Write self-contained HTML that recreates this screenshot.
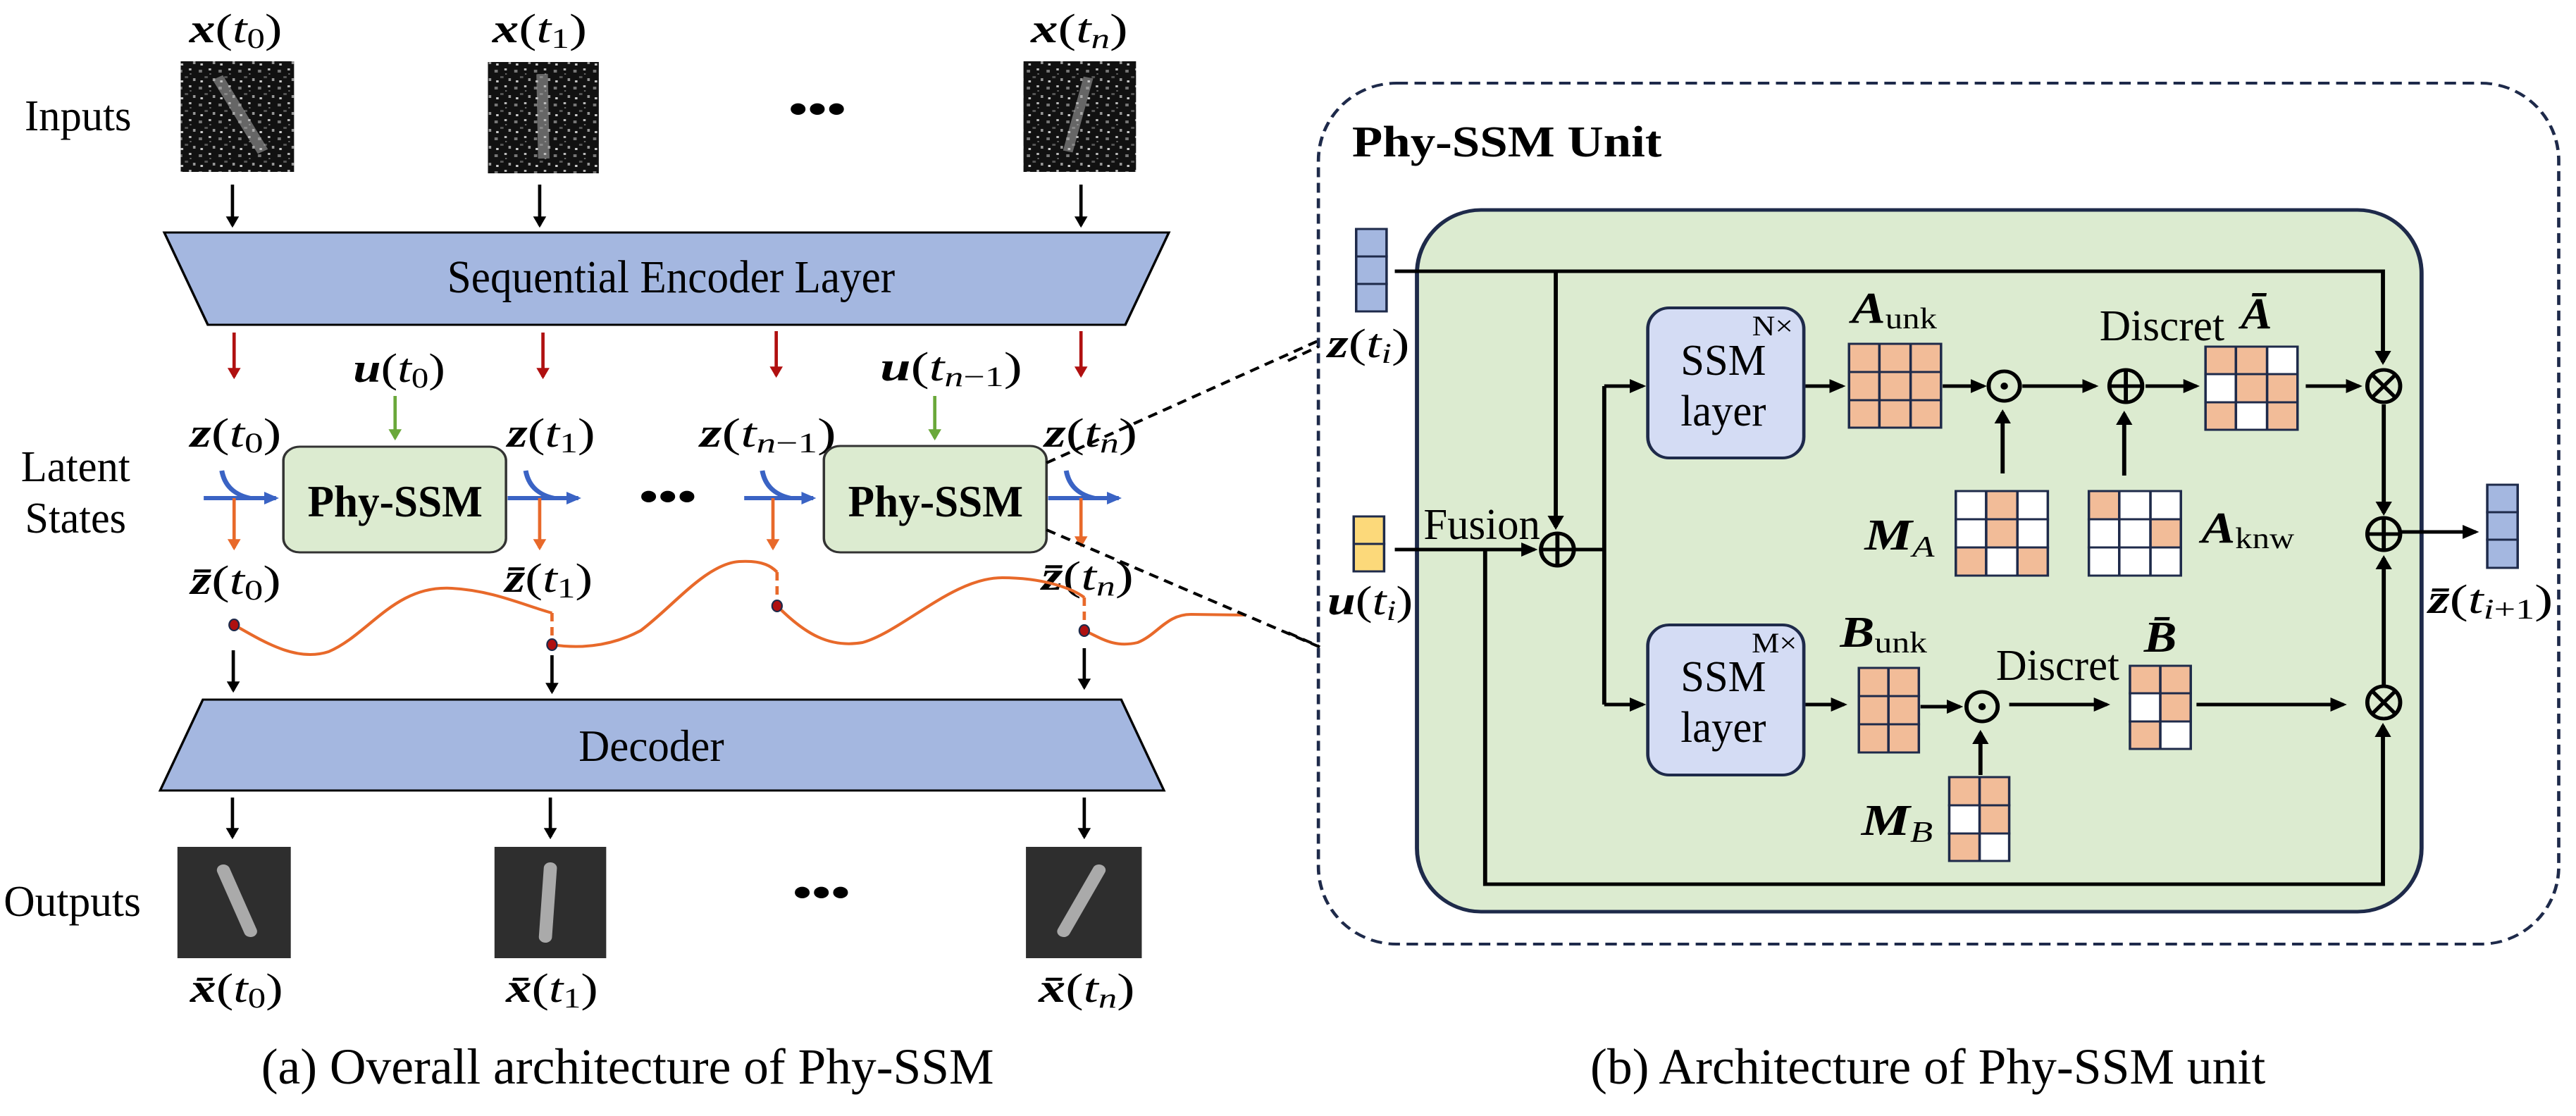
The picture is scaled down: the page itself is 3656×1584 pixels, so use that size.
<!DOCTYPE html>
<html><head><meta charset="utf-8"><style>
html,body{margin:0;padding:0;background:#fff;overflow:hidden;}
svg{display:block;}
text{font-family:"Liberation Serif",serif;fill:#000;}
.m{font-style:italic;}
.b{font-weight:bold;}
</style></head><body>
<svg width="3656" height="1584" viewBox="0 0 3656 1584" xmlns="http://www.w3.org/2000/svg">
<defs>
<marker id="ak" markerWidth="4" markerHeight="4" refX="3.2" refY="2" orient="auto" markerUnits="strokeWidth"><path d="M0,0 L4,2 L0,4 z" fill="#000"/></marker>
<marker id="ar" markerWidth="4" markerHeight="4" refX="3.2" refY="2" orient="auto" markerUnits="strokeWidth"><path d="M0,0 L4,2 L0,4 z" fill="#b01010"/></marker>
<marker id="ag" markerWidth="4" markerHeight="4" refX="3.2" refY="2" orient="auto" markerUnits="strokeWidth"><path d="M0,0 L4,2 L0,4 z" fill="#6aa83a"/></marker>
<marker id="ab" markerWidth="3" markerHeight="3" refX="2.4" refY="1.5" orient="auto" markerUnits="strokeWidth"><path d="M0,0 L3,1.5 L0,3 z" fill="#3a63c4"/></marker>
<marker id="ao" markerWidth="4" markerHeight="4" refX="3.2" refY="2" orient="auto" markerUnits="strokeWidth"><path d="M0,0 L4,2 L0,4 z" fill="#e8692a"/></marker>
<pattern id="noise" width="24" height="24" patternUnits="userSpaceOnUse">
<rect width="24" height="24" fill="#111"/>
<rect x="2" y="3" width="4" height="4" fill="#777"/><rect x="14" y="1" width="3" height="3" fill="#bbb"/>
<rect x="9" y="12" width="4" height="3" fill="#555"/><rect x="19" y="15" width="3" height="4" fill="#999"/>
<rect x="4" y="18" width="3" height="3" fill="#ccc"/><rect x="15" y="8" width="2" height="2" fill="#666"/>
</pattern>
</defs>

<!-- LEFT -->
<g transform="scale(1.1658,1)">
<text x="95" y="185" font-size="62" text-anchor="middle" textLength="130" lengthAdjust="spacingAndGlyphs">Inputs</text>
<text x="92" y="683" font-size="62" text-anchor="middle" textLength="133" lengthAdjust="spacingAndGlyphs">Latent</text>
<text x="92" y="756" font-size="62" text-anchor="middle" textLength="123" lengthAdjust="spacingAndGlyphs">States</text>
<text x="88" y="1300" font-size="62" text-anchor="middle" textLength="167" lengthAdjust="spacingAndGlyphs">Outputs</text>

<g font-size="58" text-anchor="middle">
<text x="287" y="60" textLength="113" lengthAdjust="spacingAndGlyphs"><tspan class="m b">x</tspan>(<tspan class="m">t</tspan><tspan font-size="40" dy="8">0</tspan><tspan dy="-8">)</tspan></text>
<text x="657" y="60" textLength="115" lengthAdjust="spacingAndGlyphs"><tspan class="m b">x</tspan>(<tspan class="m">t</tspan><tspan font-size="40" dy="8">1</tspan><tspan dy="-8">)</tspan></text>
<text x="1314" y="60" textLength="118" lengthAdjust="spacingAndGlyphs"><tspan class="m b">x</tspan>(<tspan class="m">t</tspan><tspan font-size="40" dy="8" class="m">n</tspan><tspan dy="-8">)</tspan></text>
</g>
<rect x="220" y="87" width="138" height="157" fill="url(#noise)"/>
<path d="M265,110 L320,215" stroke="#bbb" stroke-width="14" opacity="0.5"/>
<rect x="594" y="88" width="135" height="158" fill="url(#noise)"/>
<path d="M660,105 L662,225" stroke="#bbb" stroke-width="14" opacity="0.5"/>
<rect x="1246" y="87" width="137" height="157" fill="url(#noise)"/>
<path d="M1325,110 L1300,215" stroke="#bbb" stroke-width="12" opacity="0.5"/>
<text x="995" y="175" font-size="60" text-anchor="middle" class="b" textLength="70" lengthAdjust="spacingAndGlyphs">•••</text>

<g stroke="#000" stroke-width="4" marker-end="url(#ak)">
<line x1="283" y1="262" x2="283" y2="320"/><line x1="657" y1="262" x2="657" y2="320"/><line x1="1316" y1="262" x2="1316" y2="320"/>
<line x1="284" y1="923" x2="284" y2="980"/><line x1="672" y1="930" x2="672" y2="982"/><line x1="1320" y1="920" x2="1320" y2="976"/>
<line x1="283" y1="1132" x2="283" y2="1188"/><line x1="670" y1="1132" x2="670" y2="1188"/><line x1="1320" y1="1132" x2="1320" y2="1188"/>
</g>

<path d="M200,330 L1423,330 L1370,461 L253,461 Z" fill="#a4b7e0" stroke="#000" stroke-width="3"/>
<text x="817" y="415" font-size="66" text-anchor="middle" textLength="545" lengthAdjust="spacingAndGlyphs">Sequential Encoder Layer</text>

<g stroke="#b01010" stroke-width="4" marker-end="url(#ar)">
<line x1="285" y1="472" x2="285" y2="535"/><line x1="661" y1="472" x2="661" y2="535"/><line x1="945" y1="470" x2="945" y2="533"/><line x1="1316" y1="470" x2="1316" y2="533"/>
</g>
<g font-size="58" text-anchor="middle">
<text x="486" y="542" textLength="112" lengthAdjust="spacingAndGlyphs"><tspan class="m b">u</tspan>(<tspan class="m">t</tspan><tspan font-size="40" dy="8">0</tspan><tspan dy="-8">)</tspan></text>
<text x="1158" y="540" textLength="173" lengthAdjust="spacingAndGlyphs"><tspan class="m b">u</tspan>(<tspan class="m">t</tspan><tspan font-size="40" dy="8"><tspan class="m">n</tspan>−1</tspan><tspan dy="-8">)</tspan></text>
</g>
<g stroke="#6aa83a" stroke-width="4" marker-end="url(#ag)">
<line x1="481" y1="562" x2="481" y2="622"/><line x1="1138" y1="562" x2="1138" y2="622"/>
</g>
<g font-size="58" text-anchor="middle">
<text x="287" y="634" textLength="111" lengthAdjust="spacingAndGlyphs"><tspan class="m b">z</tspan>(<tspan class="m">t</tspan><tspan font-size="40" dy="8">0</tspan><tspan dy="-8">)</tspan></text>
<text x="671" y="634" textLength="107" lengthAdjust="spacingAndGlyphs"><tspan class="m b">z</tspan>(<tspan class="m">t</tspan><tspan font-size="40" dy="8">1</tspan><tspan dy="-8">)</tspan></text>
<text x="935" y="634" textLength="166" lengthAdjust="spacingAndGlyphs"><tspan class="m b">z</tspan>(<tspan class="m">t</tspan><tspan font-size="40" dy="8"><tspan class="m">n</tspan>−1</tspan><tspan dy="-8">)</tspan></text>
<text x="1328" y="634" textLength="113" lengthAdjust="spacingAndGlyphs"><tspan class="m b">z</tspan>(<tspan class="m">t</tspan><tspan font-size="40" dy="8" class="m">n</tspan><tspan dy="-8">)</tspan></text>
<text x="287" y="843" textLength="110" lengthAdjust="spacingAndGlyphs"><tspan class="m b">z̄</tspan>(<tspan class="m">t</tspan><tspan font-size="40" dy="8">0</tspan><tspan dy="-8">)</tspan></text>
<text x="668" y="840" textLength="107" lengthAdjust="spacingAndGlyphs"><tspan class="m b">z̄</tspan>(<tspan class="m">t</tspan><tspan font-size="40" dy="8">1</tspan><tspan dy="-8">)</tspan></text>
<text x="1324" y="837" textLength="112" lengthAdjust="spacingAndGlyphs"><tspan class="m b">z̄</tspan>(<tspan class="m">t</tspan><tspan font-size="40" dy="8" class="m">n</tspan><tspan dy="-8">)</tspan></text>
</g>

<rect x="345" y="634" width="271" height="150" rx="20" fill="#dcebd0" stroke="#333" stroke-width="3"/>
<rect x="1003" y="633" width="271" height="151" rx="20" fill="#dcebd0" stroke="#333" stroke-width="3"/>
<text x="481" y="733" font-size="64" text-anchor="middle" class="b" textLength="213" lengthAdjust="spacingAndGlyphs">Phy-SSM</text>
<text x="1139" y="733" font-size="64" text-anchor="middle" class="b" textLength="213" lengthAdjust="spacingAndGlyphs">Phy-SSM</text>
<text x="813" y="725" font-size="60" text-anchor="middle" class="b" textLength="70" lengthAdjust="spacingAndGlyphs">•••</text>

<g stroke="#3a63c4" stroke-width="6" fill="none">
<line x1="248" y1="707" x2="336" y2="707" marker-end="url(#ab)"/>
<line x1="618" y1="707" x2="704" y2="707" marker-end="url(#ab)"/>
<line x1="906" y1="707" x2="990" y2="707" marker-end="url(#ab)"/>
<line x1="1276" y1="707" x2="1362" y2="707" marker-end="url(#ab)"/>
<path d="M270,668 Q275,700 305,707"/><path d="M640,668 Q645,700 675,707"/><path d="M928,668 Q933,700 963,707"/><path d="M1298,668 Q1303,700 1333,707"/>
</g>
<g stroke="#e8692a" stroke-width="4" marker-end="url(#ao)">
<line x1="285" y1="707" x2="285" y2="778"/><line x1="657" y1="707" x2="657" y2="778"/><line x1="941" y1="707" x2="941" y2="778"/><line x1="1316" y1="707" x2="1316" y2="774"/>
</g>
<g stroke="#e8692a" stroke-width="4" fill="none">
<path d="M285,887 C320,910 360,940 400,925 C450,900 480,830 550,835 C600,838 640,860 672,870"/>
<line x1="672" y1="870" x2="672" y2="915" stroke-dasharray="12,8"/>
<path d="M672,915 C700,920 740,920 780,895 C820,860 860,800 900,797 C930,795 940,805 946,812"/>
<line x1="946" y1="812" x2="946" y2="860" stroke-dasharray="12,8"/>
<path d="M946,860 C980,900 1010,920 1050,912 C1100,895 1160,820 1220,820 C1270,820 1305,835 1320,848"/>
<line x1="1320" y1="848" x2="1320" y2="895" stroke-dasharray="12,8"/>
<path d="M1320,895 C1340,905 1355,920 1385,912 C1410,900 1420,872 1450,872 L1515,873"/>
</g>
<g fill="#b01010" stroke="#1e2a4a" stroke-width="2">
<ellipse cx="285" cy="887" rx="6" ry="8"/><ellipse cx="672" cy="915" rx="6" ry="8"/><ellipse cx="946" cy="860" rx="6" ry="8"/><ellipse cx="1320" cy="895" rx="6" ry="8"/>
</g>

<path d="M247,993 L1365,993 L1417,1122 L195,1122 Z" fill="#a4b7e0" stroke="#000" stroke-width="3"/>
<text x="793" y="1080" font-size="64" text-anchor="middle" textLength="177" lengthAdjust="spacingAndGlyphs">Decoder</text>

<rect x="216" y="1202" width="138" height="158" fill="#2e2e2e"/>
<line x1="272" y1="1235" x2="305" y2="1322" stroke="#aaa" stroke-width="16" stroke-linecap="round"/>
<rect x="602" y="1202" width="136" height="158" fill="#2e2e2e"/>
<line x1="670" y1="1232" x2="664" y2="1330" stroke="#aaa" stroke-width="16" stroke-linecap="round"/>
<rect x="1249" y="1202" width="141" height="158" fill="#2e2e2e"/>
<line x1="1338" y1="1235" x2="1295" y2="1322" stroke="#aaa" stroke-width="16" stroke-linecap="round"/>
<text x="1000" y="1287" font-size="60" text-anchor="middle" class="b" textLength="70" lengthAdjust="spacingAndGlyphs">•••</text>
<g font-size="58" text-anchor="middle">
<text x="288" y="1422" textLength="113" lengthAdjust="spacingAndGlyphs"><tspan class="m b">x̄</tspan>(<tspan class="m">t</tspan><tspan font-size="40" dy="8">0</tspan><tspan dy="-8">)</tspan></text>
<text x="672" y="1422" textLength="112" lengthAdjust="spacingAndGlyphs"><tspan class="m b">x̄</tspan>(<tspan class="m">t</tspan><tspan font-size="40" dy="8">1</tspan><tspan dy="-8">)</tspan></text>
<text x="1323" y="1422" textLength="117" lengthAdjust="spacingAndGlyphs"><tspan class="m b">x̄</tspan>(<tspan class="m">t</tspan><tspan font-size="40" dy="8" class="m">n</tspan><tspan dy="-8">)</tspan></text>
</g>
<text x="764" y="1538" font-size="72" text-anchor="middle" textLength="892" lengthAdjust="spacingAndGlyphs">(a) Overall architecture of Phy-SSM</text>
<g stroke="#000" stroke-width="4" stroke-dasharray="12,8">
<line x1="1274" y1="657" x2="1608" y2="482"/>
<line x1="1274" y1="752" x2="1608" y2="919"/>
</g>
</g>

<!-- RIGHT -->
<g transform="translate(1828,0) scale(1.1658,1)">
<rect x="37" y="118" width="1510" height="1222" rx="95" ry="110" fill="none" stroke="#1e2a4a" stroke-width="4" stroke-dasharray="14,8"/>
<text x="78" y="222" font-size="62" class="b" textLength="377" lengthAdjust="spacingAndGlyphs">Phy-SSM Unit</text>
<rect x="157" y="298" width="1223" height="996" rx="78" ry="90" fill="#dcebd0" stroke="#1e2a4a" stroke-width="5"/>

<g stroke="#1e2a4a" stroke-width="3" fill="#a4b7e0">
<rect x="83" y="325" width="37" height="39"/><rect x="83" y="364" width="37" height="39"/><rect x="83" y="403" width="37" height="39"/>
<rect x="1460" y="688" width="37" height="39"/><rect x="1460" y="727" width="37" height="39"/><rect x="1460" y="766" width="37" height="40"/>
</g>
<g stroke="#1e2a4a" stroke-width="3" fill="#fcd97a">
<rect x="80" y="733" width="37" height="39"/><rect x="80" y="772" width="37" height="39"/>
</g>
<g font-size="58" text-anchor="middle">
<text x="98" y="507" textLength="100" lengthAdjust="spacingAndGlyphs"><tspan class="m b">z</tspan>(<tspan class="m">t</tspan><tspan font-size="40" dy="8" class="m">i</tspan><tspan dy="-8">)</tspan></text>
<text x="100" y="872" textLength="104" lengthAdjust="spacingAndGlyphs"><tspan class="m b">u</tspan>(<tspan class="m">t</tspan><tspan font-size="40" dy="8" class="m">i</tspan><tspan dy="-8">)</tspan></text>
<text x="1464" y="870" textLength="152" lengthAdjust="spacingAndGlyphs"><tspan class="m b">z̄</tspan>(<tspan class="m">t</tspan><tspan font-size="40" dy="8"><tspan class="m">i</tspan>+1</tspan><tspan dy="-8">)</tspan></text>
</g>

<g stroke="#000" stroke-width="5" fill="none">
<polyline points="130,385 1333,385 1333,514" marker-end="url(#ak)"/>
<line x1="326" y1="385" x2="326" y2="748" marker-end="url(#ak)"/>
<line x1="130" y1="780" x2="300" y2="780" marker-end="url(#ak)"/>
<line x1="350" y1="780" x2="385" y2="780"/>
<line x1="385" y1="548" x2="385" y2="1000"/>
<line x1="385" y1="548" x2="432" y2="548" marker-end="url(#ak)"/>
<line x1="385" y1="1000" x2="432" y2="1000" marker-end="url(#ak)"/>
<polyline points="240,780 240,1255 1333,1255 1333,1030" marker-end="url(#ak)"/>
<line x1="630" y1="548" x2="675" y2="548" marker-end="url(#ak)"/>
<line x1="797" y1="548" x2="847" y2="548" marker-end="url(#ak)"/>
<line x1="894" y1="548" x2="983" y2="548" marker-end="url(#ak)"/>
<line x1="1044" y1="548" x2="1106" y2="548" marker-end="url(#ak)"/>
<line x1="1239" y1="548" x2="1304" y2="548" marker-end="url(#ak)"/>
<line x1="870" y1="672" x2="870" y2="585" marker-end="url(#ak)"/>
<line x1="1018" y1="675" x2="1018" y2="587" marker-end="url(#ak)"/>
<line x1="1334" y1="574" x2="1334" y2="728" marker-end="url(#ak)"/>
<line x1="1334" y1="972" x2="1334" y2="792" marker-end="url(#ak)"/>
<line x1="1356" y1="755" x2="1446" y2="755" marker-end="url(#ak)"/>
<line x1="630" y1="1000" x2="677" y2="1000" marker-end="url(#ak)"/>
<line x1="770" y1="1003" x2="818" y2="1003" marker-end="url(#ak)"/>
<line x1="878" y1="1000" x2="997" y2="1000" marker-end="url(#ak)"/>
<line x1="1106" y1="1000" x2="1285" y2="1000" marker-end="url(#ak)"/>
<line x1="843" y1="1100" x2="843" y2="1040" marker-end="url(#ak)"/>
</g>

<g stroke="#000" stroke-width="5" fill="none">
<ellipse cx="328" cy="780" rx="20" ry="23"/><path d="M308,780 H348 M328,757 V803"/>
<ellipse cx="1020" cy="548" rx="20" ry="23"/><path d="M1000,548 H1040 M1020,525 V571"/>
<ellipse cx="1334" cy="758" rx="20" ry="23"/><path d="M1314,758 H1354 M1334,735 V781"/>
<ellipse cx="1334" cy="548" rx="20" ry="23"/><path d="M1320,532 L1348,564 M1348,532 L1320,564"/>
<ellipse cx="1334" cy="997" rx="20" ry="23"/><path d="M1320,981 L1348,1013 M1348,981 L1320,1013"/>
<ellipse cx="872" cy="548" rx="19" ry="21"/><ellipse cx="845" cy="1003" rx="19" ry="21"/>
</g>
<ellipse cx="872" cy="548" rx="4.5" ry="5" fill="#000"/><ellipse cx="845" cy="1003" rx="4.5" ry="5" fill="#000"/>
<text x="165" y="765" font-size="62" textLength="142" lengthAdjust="spacingAndGlyphs">Fusion</text>

<g>
<rect x="438" y="437" width="190" height="213" rx="26" ry="30" fill="#d4dcf4" stroke="#1e2a4a" stroke-width="4"/>
<rect x="438" y="887" width="190" height="213" rx="26" ry="30" fill="#d4dcf4" stroke="#1e2a4a" stroke-width="4"/>
<text x="530" y="532" font-size="62" text-anchor="middle" textLength="104" lengthAdjust="spacingAndGlyphs">SSM</text>
<text x="530" y="604" font-size="62" text-anchor="middle" textLength="104" lengthAdjust="spacingAndGlyphs">layer</text>
<text x="530" y="981" font-size="62" text-anchor="middle" textLength="104" lengthAdjust="spacingAndGlyphs">SSM</text>
<text x="530" y="1053" font-size="62" text-anchor="middle" textLength="104" lengthAdjust="spacingAndGlyphs">layer</text>
<text x="590" y="476" font-size="40" text-anchor="middle" textLength="50" lengthAdjust="spacingAndGlyphs">N×</text>
<text x="592" y="926" font-size="40" text-anchor="middle" textLength="55" lengthAdjust="spacingAndGlyphs">M×</text>
</g>

<g stroke="#1e2a4a" stroke-width="3">
<g fill="#f2bc98">
<rect x="683" y="488" width="37" height="40"/><rect x="720" y="488" width="38" height="40"/><rect x="758" y="488" width="37" height="40"/>
<rect x="683" y="528" width="37" height="40"/><rect x="720" y="528" width="38" height="40"/><rect x="758" y="528" width="37" height="40"/>
<rect x="683" y="568" width="37" height="39"/><rect x="720" y="568" width="38" height="39"/><rect x="758" y="568" width="37" height="39"/>
</g>
<rect x="1117" y="492" width="37" height="39" fill="#f2bc98"/><rect x="1154" y="492" width="38" height="39" fill="#f2bc98"/><rect x="1192" y="492" width="37" height="39" fill="#fff"/>
<rect x="1117" y="531" width="37" height="40" fill="#fff"/><rect x="1154" y="531" width="38" height="40" fill="#f2bc98"/><rect x="1192" y="531" width="37" height="40" fill="#f2bc98"/>
<rect x="1117" y="571" width="37" height="39" fill="#f2bc98"/><rect x="1154" y="571" width="38" height="39" fill="#fff"/><rect x="1192" y="571" width="37" height="39" fill="#f2bc98"/>
<rect x="813" y="697" width="37" height="40" fill="#fff"/><rect x="850" y="697" width="38" height="40" fill="#f2bc98"/><rect x="888" y="697" width="37" height="40" fill="#fff"/>
<rect x="813" y="737" width="37" height="40" fill="#fff"/><rect x="850" y="737" width="38" height="40" fill="#f2bc98"/><rect x="888" y="737" width="37" height="40" fill="#fff"/>
<rect x="813" y="777" width="37" height="40" fill="#f2bc98"/><rect x="850" y="777" width="38" height="40" fill="#fff"/><rect x="888" y="777" width="37" height="40" fill="#f2bc98"/>
<rect x="975" y="697" width="37" height="40" fill="#f2bc98"/><rect x="1012" y="697" width="38" height="40" fill="#fff"/><rect x="1050" y="697" width="37" height="40" fill="#fff"/>
<rect x="975" y="737" width="37" height="40" fill="#fff"/><rect x="1012" y="737" width="38" height="40" fill="#fff"/><rect x="1050" y="737" width="37" height="40" fill="#f2bc98"/>
<rect x="975" y="777" width="37" height="40" fill="#fff"/><rect x="1012" y="777" width="38" height="40" fill="#fff"/><rect x="1050" y="777" width="37" height="40" fill="#fff"/>
<g fill="#f2bc98">
<rect x="695" y="948" width="36" height="40"/><rect x="731" y="948" width="37" height="40"/>
<rect x="695" y="988" width="36" height="40"/><rect x="731" y="988" width="37" height="40"/>
<rect x="695" y="1028" width="36" height="40"/><rect x="731" y="1028" width="37" height="40"/>
</g>
<rect x="1025" y="945" width="37" height="39" fill="#f2bc98"/><rect x="1062" y="945" width="37" height="39" fill="#f2bc98"/>
<rect x="1025" y="984" width="37" height="40" fill="#fff"/><rect x="1062" y="984" width="37" height="40" fill="#f2bc98"/>
<rect x="1025" y="1024" width="37" height="39" fill="#f2bc98"/><rect x="1062" y="1024" width="37" height="39" fill="#fff"/>
<rect x="805" y="1103" width="37" height="40" fill="#f2bc98"/><rect x="842" y="1103" width="36" height="40" fill="#f2bc98"/>
<rect x="805" y="1143" width="37" height="40" fill="#fff"/><rect x="842" y="1143" width="36" height="40" fill="#f2bc98"/>
<rect x="805" y="1183" width="37" height="39" fill="#f2bc98"/><rect x="842" y="1183" width="36" height="39" fill="#fff"/>
</g>

<g font-size="62">
<text x="686" y="458" textLength="104" lengthAdjust="spacingAndGlyphs"><tspan class="m b">A</tspan><tspan font-size="42" dy="8">unk</tspan></text>
<text x="988" y="483" textLength="152" lengthAdjust="spacingAndGlyphs">Discret</text>
<text x="1160" y="466" class="m b" textLength="38" lengthAdjust="spacingAndGlyphs">Ā</text>
<text x="702" y="780" textLength="85" lengthAdjust="spacingAndGlyphs"><tspan class="m b">M</tspan><tspan font-size="42" dy="10" class="m">A</tspan></text>
<text x="1112" y="770" textLength="113" lengthAdjust="spacingAndGlyphs"><tspan class="m b">A</tspan><tspan font-size="42" dy="8">knw</tspan></text>
<text x="672" y="918" textLength="106" lengthAdjust="spacingAndGlyphs"><tspan class="m b">B</tspan><tspan font-size="42" dy="8">unk</tspan></text>
<text x="862" y="965" textLength="150" lengthAdjust="spacingAndGlyphs">Discret</text>
<text x="1042" y="925" class="m b" textLength="40" lengthAdjust="spacingAndGlyphs">B̄</text>
<text x="698" y="1185" textLength="87" lengthAdjust="spacingAndGlyphs"><tspan class="m b">M</tspan><tspan font-size="42" dy="10" class="m">B</tspan></text>
</g>
<text x="779" y="1538" font-size="72" text-anchor="middle" textLength="822" lengthAdjust="spacingAndGlyphs">(b) Architecture of Phy-SSM unit</text>
<g stroke="#000" stroke-width="4" stroke-dasharray="12,8">
<line x1="0" y1="512" x2="37" y2="492"/>
<line x1="0" y1="898" x2="37" y2="917"/>
</g>
</g>
</svg>
</body></html>
